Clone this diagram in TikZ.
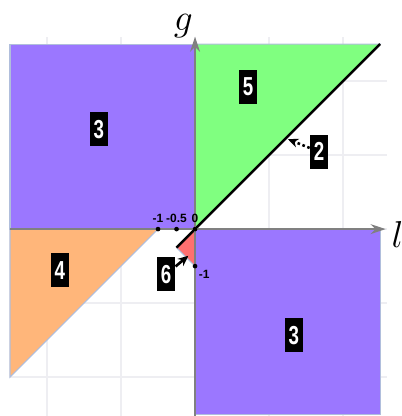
\documentclass[tikz,border=0pt]{standalone}
\usepackage{fontspec}
\setsansfont{Liberation Sans}
\newfontfamily\tagfont[FakeStretch=0.72]{Liberation Sans}
\usepackage{tikz}
\usetikzlibrary{positioning, arrows.meta, calc}
\definecolor{cPurple}{RGB}{155,119,255}
\definecolor{cGreen}{RGB}{128,255,128}
\definecolor{cOrange}{RGB}{255,182,122}
\definecolor{cRed}{RGB}{255,112,112}
\definecolor{cEdge}{RGB}{176,190,220}
\definecolor{cAxis}{RGB}{128,128,128}
\definecolor{cGrid}{RGB}{238,238,242}

\begin{document}
\begin{tikzpicture}[x=0.5cm, y=0.5cm,
                    region/.style={draw=cEdge, line width=0.4pt},
                    gridline/.style={draw=cGrid, line width=0.5pt, step=2},
                    axis/.style={draw=cAxis, line width=0.8pt, -{Stealth[length=5.8pt, width=3.8pt]}},
                    tag/.style={fill=black, text=white, font=\tagfont\bfseries\fontsize{10}{10}\selectfont,
                                inner xsep=1.4pt, inner ysep=3pt, text height=7.1pt, text depth=0pt},
                    dot/.style={circle, fill=black, inner sep=0pt, minimum size=1.8pt},
                    tick/.style={font=\sffamily\bfseries\fontsize{4.6}{5.5}\selectfont, inner sep=0.5pt}]
    \useasboundingbox (-5.27,-5.05) rectangle (5.57,6.19);

    % Grid
    \draw[gridline] (-5,-5.05) grid (5.2,5.2);

    % Regions
    \filldraw[region, fill=cPurple] (-5,0) rectangle (0,5);
    \filldraw[region, fill=cPurple] (0,0) rectangle (5,-5);
    \filldraw[region, fill=cGreen] (0,0) -- (0,5) -- (5,5) -- cycle;
    \filldraw[region, fill=cOrange] (-5,0) -- (-1,0) -- (-5,-4) -- cycle;
    \filldraw[region, fill=cRed] (0,0) -- (-0.5,-0.5) -- (0,-1) -- cycle;
    \draw[line width=0.9pt] (-0.5,-0.5) -- (5,5);

    % Axes
    \draw[axis] (-5,0) -- (5.15,0);
    \draw[axis] (0,-5.05) -- (0,5.2);
    \node[anchor=base west, inner sep=0pt, font=\fontsize{15}{15}\selectfont] (lbl) at (5.3,-0.51) {$l$};
    \node[anchor=south east, inner sep=0pt, font=\fontsize{15}{15}\selectfont] (glbl) at (-0.05,5.16) {$g$};

    % Marked points
    \node[dot, label={[tick, label distance=0.8pt]above:-1}] (pm1) at (-1,0) {};
    \node[dot, label={[tick, label distance=0.8pt]above:-0.5}] (pmh) at (-0.5,0) {};
    \node[dot, label={[tick, label distance=0.8pt]above:0}] (po) at (0,0) {};
    \node[dot, label={[tick, label distance=0pt]below right:-1}] (pgm1) at (0,-1) {};

    % Region numbers
    \node[tag] (R3a) at (-2.6,2.7) {3};
    \node[tag] (R5) at (1.43,3.85) {5};
    \node[tag] (R2) at (3.35,2.09) {2};
    \node[tag] (R4) at (-3.65,-1.1) {4};
    \node[tag] (R3b) at (2.67,-2.87) {3};
    \node[tag] (R6) at (-0.78,-1.22) {6};

    % Pointers
    \coordinate (t2) at (2.51,2.43);
    \coordinate (t6) at (-0.18,-0.72);
    \draw[line width=1pt, densely dotted, -{Stealth[length=4pt, width=3.5pt]}] (R2) -- (t2);
    \draw[line width=1pt, -{Stealth[length=4pt, width=3.5pt]}] (R6) -- (t6);
\end{tikzpicture}
\end{document}
